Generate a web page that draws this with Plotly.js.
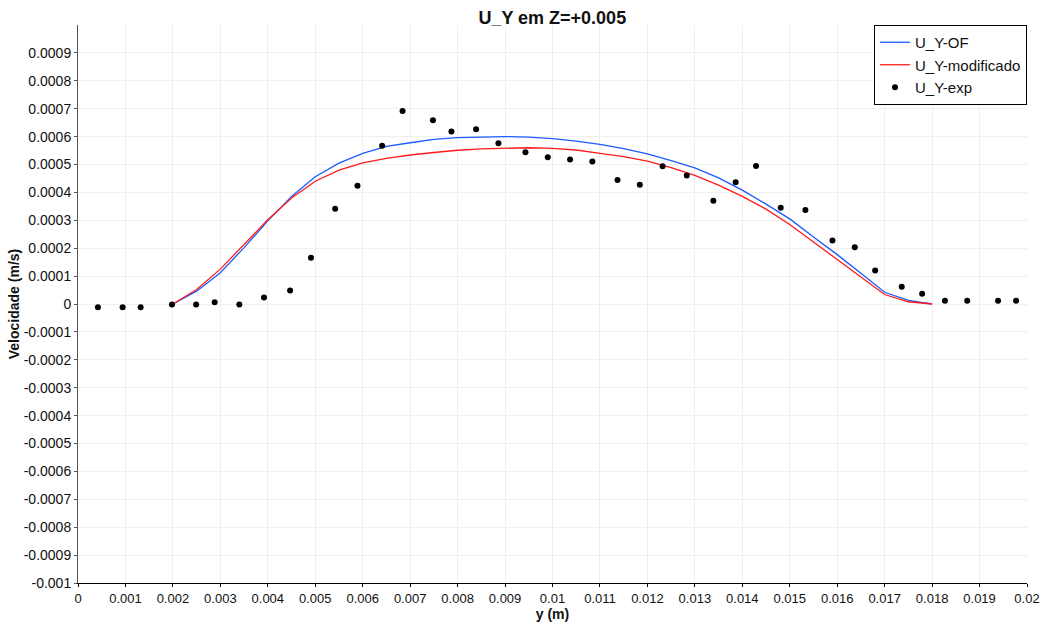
<!DOCTYPE html>
<html>
<head>
<meta charset="utf-8">
<script src="https://cdn.plot.ly/plotly-3.0.1.min.js"></script>
<style>
  html, body { margin: 0; padding: 0; background: #fff; }
  #chart { width: 1043px; height: 623px; }
</style>
</head>
<body>
<div id="chart"></div>
<script>
// Perfil de velocidade U_Y em Z=+0.005

// Simulação OpenFOAM original
const ofY = [0.002, 0.0025, 0.003, 0.0035, 0.004, 0.0045, 0.005, 0.0055, 0.006, 0.0065,
  0.007, 0.0075, 0.008, 0.0085, 0.009, 0.0095, 0.010, 0.0105, 0.011, 0.0115,
  0.012, 0.0125, 0.013, 0.0135, 0.014, 0.0145, 0.015, 0.0155, 0.016, 0.0165,
  0.017, 0.0175, 0.018];
const ofU = [0, 0.000046, 0.000112, 0.000202, 0.000298, 0.000385, 0.000456, 0.000505, 0.000540, 0.000565,
  0.000578, 0.000590, 0.000596, 0.000599, 0.000600, 0.000598, 0.000593, 0.000584, 0.000572, 0.000557,
  0.000538, 0.000514, 0.000488, 0.000452, 0.000408, 0.000358, 0.000305, 0.000240, 0.000177, 0.000110,
  0.000042, 0.000013, 0];

// Simulação com o modelo modificado
const modY = ofY;
const modU = [0, 0.000052, 0.000125, 0.000212, 0.000302, 0.000380, 0.000440, 0.000480, 0.000506, 0.000522,
  0.000534, 0.000543, 0.000551, 0.000556, 0.000559, 0.000560, 0.000558, 0.000552, 0.000540, 0.000528,
  0.000512, 0.000489, 0.000461, 0.000426, 0.000386, 0.000340, 0.000285, 0.000222, 0.000159, 0.000094,
  0.000034, 0.000008, 0];

// Dados experimentais
const expY = [0.00042, 0.00094, 0.00132, 0.00198, 0.00249, 0.00288, 0.00340, 0.00392, 0.00447, 0.00491,
  0.00542, 0.00589, 0.00641, 0.00684, 0.00748, 0.00787, 0.00839, 0.00886, 0.00943, 0.00990,
  0.01037, 0.01084, 0.01137, 0.01184, 0.01232, 0.01283, 0.01339, 0.01386, 0.01429, 0.01481,
  0.01533, 0.01590, 0.01637, 0.01680, 0.01736, 0.01779, 0.01827, 0.01874, 0.01939, 0.01977];
const expU = [-0.000012, -0.000012, -0.000012, -0.000002, -0.000002, 0.000006, -0.000002, 0.000023, 0.000048, 0.000166,
  0.000341, 0.000424, 0.000567, 0.000692, 0.000659, 0.000618, 0.000626, 0.000576, 0.000544, 0.000526,
  0.000518, 0.000511, 0.000444, 0.000427, 0.000494, 0.000461, 0.000370, 0.000436, 0.000495, 0.000345,
  0.000337, 0.000228, 0.000203, 0.000120, 0.000062, 0.000037, 0.000012, 0.000012, 0.000012, 0.000012];

// Rótulos dos eixos
const xTickVals = [0, 0.001, 0.002, 0.003, 0.004, 0.005, 0.006, 0.007, 0.008, 0.009, 0.01,
  0.011, 0.012, 0.013, 0.014, 0.015, 0.016, 0.017, 0.018, 0.019, 0.02];
const xTickText = ['0', '0.001', '0.002', '0.003', '0.004', '0.005', '0.006', '0.007', '0.008', '0.009', '0.01',
  '0.011', '0.012', '0.013', '0.014', '0.015', '0.016', '0.017', '0.018', '0.019', '0.02'];
const yTickVals = [-0.001, -0.0009, -0.0008, -0.0007, -0.0006, -0.0005, -0.0004, -0.0003, -0.0002, -0.0001,
  0, 0.0001, 0.0002, 0.0003, 0.0004, 0.0005, 0.0006, 0.0007, 0.0008, 0.0009];
const yTickText = ['-0.001', '-0.0009', '-0.0008', '-0.0007', '-0.0006', '-0.0005', '-0.0004', '-0.0003', '-0.0002', '-0.0001',
  '0', '0.0001', '0.0002', '0.0003', '0.0004', '0.0005', '0.0006', '0.0007', '0.0008', '0.0009'];

const FONT = 'Liberation Sans, Arial, Helvetica, sans-serif';

const traces = [
  {
    x: ofY, y: ofU, type: 'scatter', mode: 'lines', name: 'U_Y-OF',
    line: { color: '#1a5cff', width: 1.3 }
  },
  {
    x: modY, y: modU, type: 'scatter', mode: 'lines', name: 'U_Y-modificado',
    line: { color: '#ff1a1a', width: 1.3 }
  },
  {
    x: expY, y: expU, type: 'scatter', mode: 'markers', name: 'U_Y-exp',
    marker: { color: '#000', size: 6 }
  }
];

const layout = {
  width: 1043, height: 623,
  margin: { l: 78, r: 16, t: 25, b: 40 },
  paper_bgcolor: '#fff', plot_bgcolor: '#fff',
  font: { family: FONT, color: '#111' },
  title: {
    text: '<b>U_Y em Z=+0.005</b>',
    font: { family: FONT, size: 18, color: '#111' },
    x: 0.5295, xanchor: 'center', y: 0.971, yanchor: 'middle'
  },
  showlegend: true,
  legend: {
    x: 1, xanchor: 'right', y: 1, yanchor: 'top',
    bgcolor: '#fff', bordercolor: '#000', borderwidth: 1,
    font: { family: FONT, size: 15, color: '#111' },
    tracegroupgap: 0
  },
  xaxis: {
    range: [0, 0.02],
    tickmode: 'array', tickvals: xTickVals, ticktext: xTickText,
    ticks: 'outside', ticklen: 3, tickcolor: '#000',
    tickfont: { family: FONT, size: 13, color: '#111' },
    showline: true, linecolor: '#000', linewidth: 1,
    showgrid: true, gridcolor: '#efefef', gridwidth: 1,
    zeroline: false,
    title: { text: '<b>y (m)</b>', font: { family: FONT, size: 14, color: '#111' }, standoff: 2 }
  },
  yaxis: {
    range: [-0.001, 0.001],
    tickmode: 'array', tickvals: yTickVals, ticktext: yTickText,
    ticks: 'outside', ticklen: 3, tickcolor: '#555',
    tickfont: { family: FONT, size: 14, color: '#111' },
    showline: true, linecolor: '#555', linewidth: 1,
    showgrid: true, gridcolor: '#efefef', gridwidth: 1,
    zeroline: false,
    title: { text: '<b>Velocidade (m/s)</b>', font: { family: FONT, size: 14, color: '#111' }, standoff: 0 }
  }
};

Plotly.newPlot('chart', traces, layout, { displayModeBar: false, staticPlot: true });
</script>
</body>
</html>
